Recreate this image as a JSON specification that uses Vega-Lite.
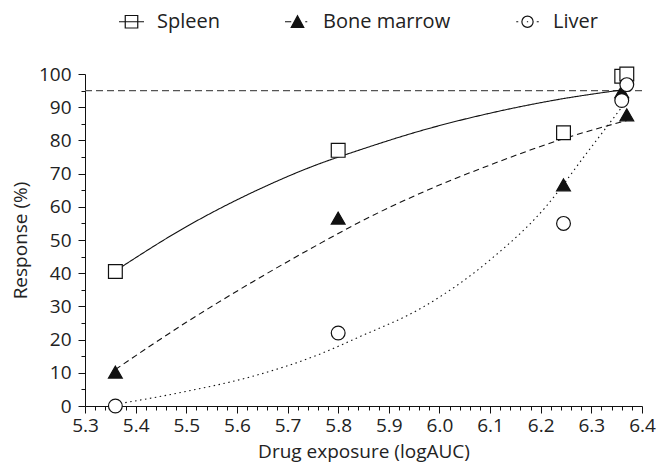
{
  "$schema": "https://vega.github.io/schema/vega-lite/v6.json",
  "width": 557,
  "height": 332,
  "autosize": "none",
  "padding": {"left": 85, "top": 74, "right": 23, "bottom": 69},
  "config": {
    "font": "Open Sans",
    "view": {"stroke": null},
    "axis": {
      "grid": false,
      "domainColor": "#111",
      "tickColor": "#111",
      "labelColor": "#222",
      "titleColor": "#222",
      "labelFontSize": 19,
      "titleFontSize": 19,
      "titleFontWeight": "normal",
      "labelFont": "Open Sans",
      "titleFont": "Open Sans"
    }
  },
  "datasets": {
    "points": [
      {"series": "Spleen", "x": 5.36, "y": 40.5},
      {"series": "Spleen", "x": 5.8, "y": 77},
      {"series": "Spleen", "x": 6.245, "y": 82.3},
      {"series": "Spleen", "x": 6.36, "y": 99.3},
      {"series": "Spleen", "x": 6.37, "y": 100},
      {"series": "Bone marrow", "x": 5.36, "y": 10.2},
      {"series": "Bone marrow", "x": 5.8, "y": 56.6},
      {"series": "Bone marrow", "x": 6.245, "y": 66.6},
      {"series": "Bone marrow", "x": 6.36, "y": 94.7},
      {"series": "Bone marrow", "x": 6.37, "y": 87.7},
      {"series": "Liver", "x": 5.36, "y": 0},
      {"series": "Liver", "x": 5.8, "y": 22},
      {"series": "Liver", "x": 6.245, "y": 55},
      {"series": "Liver", "x": 6.36, "y": 92},
      {"series": "Liver", "x": 6.37, "y": 96.8}
    ],
    "curves": [
      {"series": "Spleen", "x": 5.36, "y": 40.7},
      {"series": "Spleen", "x": 5.5, "y": 54},
      {"series": "Spleen", "x": 5.63, "y": 64.3},
      {"series": "Spleen", "x": 5.76, "y": 72.8},
      {"series": "Spleen", "x": 5.84, "y": 77},
      {"series": "Spleen", "x": 5.97, "y": 83.2},
      {"series": "Spleen", "x": 6.1, "y": 88.2},
      {"series": "Spleen", "x": 6.23, "y": 92.2},
      {"series": "Spleen", "x": 6.36, "y": 95.2},
      {"series": "Bone marrow", "x": 5.36, "y": 11},
      {"series": "Bone marrow", "x": 5.5, "y": 25.2},
      {"series": "Bone marrow", "x": 5.63, "y": 37.3},
      {"series": "Bone marrow", "x": 5.76, "y": 48.6},
      {"series": "Bone marrow", "x": 5.84, "y": 55.2},
      {"series": "Bone marrow", "x": 5.97, "y": 64.6},
      {"series": "Bone marrow", "x": 6.1, "y": 72.6},
      {"series": "Bone marrow", "x": 6.245, "y": 80.5},
      {"series": "Bone marrow", "x": 6.37, "y": 86},
      {"series": "Liver", "x": 5.36, "y": 0.5},
      {"series": "Liver", "x": 5.5, "y": 4.4},
      {"series": "Liver", "x": 5.63, "y": 8.9},
      {"series": "Liver", "x": 5.76, "y": 15.4},
      {"series": "Liver", "x": 5.84, "y": 20.7},
      {"series": "Liver", "x": 5.97, "y": 30},
      {"series": "Liver", "x": 6.1, "y": 44},
      {"series": "Liver", "x": 6.21, "y": 60},
      {"series": "Liver", "x": 6.29, "y": 76},
      {"series": "Liver", "x": 6.365, "y": 91}
    ]
  },
  "layer": [
    {
      "data": {"values": [{"level": 95}]},
      "mark": {"type": "rule", "strokeDash": [7, 4], "color": "#555", "strokeWidth": 1.2},
      "encoding": {"y": {"field": "level", "type": "quantitative", "axis": null}}
    },
    {
      "data": {"name": "curves"},
      "mark": {"type": "line", "interpolate": "monotone", "color": "#111", "strokeWidth": 1.1},
      "encoding": {
        "x": {
          "field": "x", "type": "quantitative",
          "scale": {"domain": [5.3, 6.4], "nice": false, "zero": false},
          "axis": {
            "orient": "bottom",
            "title": "Drug exposure (logAUC)",
            "values": [5.3, 5.4, 5.5, 5.6, 5.7, 5.8, 5.9, 6.0, 6.1, 6.2, 6.3, 6.4],
            "format": ".1f",
            "tickSize": 7,
            "labelPadding": 3,
            "titlePadding": 7,
            "labelFlush": false,
            "labelOverlap": false
          }
        },
        "y": {
          "field": "y", "type": "quantitative",
          "scale": {"domain": [0, 100], "nice": false},
          "axis": {
            "orient": "left",
            "title": "Response (%)",
            "values": [0, 10, 20, 30, 40, 50, 60, 70, 80, 90, 100],
            "tickSize": 7,
            "labelPadding": 7,
            "titlePadding": 8,
            "labelFlush": false,
            "labelOverlap": false
          }
        },
        "detail": {"field": "series"},
        "strokeDash": {
          "field": "series", "type": "nominal",
          "scale": {"domain": ["Spleen", "Bone marrow", "Liver"], "range": [[1, 0], [6, 4], [1.5, 3.5]]},
          "legend": null
        }
      }
    },
    {
      "data": {"name": "points"},
      "mark": {"type": "point", "filled": true, "stroke": "#111", "strokeWidth": 1.2, "size": 190, "opacity": 1},
      "encoding": {
        "x": {
          "field": "x", "type": "quantitative",
          "axis": {
            "orient": "bottom",
            "title": null,
            "labels": false,
            "domain": false,
            "tickSize": 4,
            "values": [5.32, 5.34, 5.36, 5.38, 5.42, 5.44, 5.46, 5.48, 5.52, 5.54, 5.56, 5.58, 5.62, 5.64, 5.66, 5.68, 5.72, 5.74, 5.76, 5.78, 5.82, 5.84, 5.86, 5.88, 5.92, 5.94, 5.96, 5.98, 6.02, 6.04, 6.06, 6.08, 6.12, 6.14, 6.16, 6.18, 6.22, 6.24, 6.26, 6.28, 6.32, 6.34, 6.36, 6.38]
          }
        },
        "y": {
          "field": "y", "type": "quantitative",
          "axis": {
            "orient": "left",
            "title": null,
            "labels": false,
            "domain": false,
            "tickSize": 4,
            "values": [5, 15, 25, 35, 45, 55, 65, 75, 85, 95]
          }
        },
        "shape": {
          "field": "series", "type": "nominal",
          "scale": {"domain": ["Spleen", "Bone marrow", "Liver"], "range": ["square", "triangle-up", "circle"]},
          "legend": null
        },
        "fill": {
          "field": "series", "type": "nominal",
          "scale": {"domain": ["Spleen", "Bone marrow", "Liver"], "range": ["white", "#111", "white"]},
          "legend": null
        }
      }
    },
    {
      "data": {"name": "points"},
      "mark": {"type": "point", "filled": true, "stroke": "#111", "strokeWidth": 1.2, "size": 625, "opacity": 0},
      "encoding": {
        "x": {"field": "x", "type": "quantitative", "axis": null},
        "y": {"field": "y", "type": "quantitative", "axis": null},
        "shape": {
          "field": "series", "type": "nominal",
          "scale": {
            "domain": ["Spleen", "Bone marrow", "Liver"],
            "range": [
              "M-1,0H1M-0.5,-0.5H0.5V0.5H-0.5Z",
              "M-1,0H-0.5M0.62,0H0.78M0,-0.48L0.5,0.45H-0.5Z",
              "M-0.9,0H-0.74M0.74,0H0.9M-0.05,0H0.05M-0.45,0A0.45,0.45 0 1 1 0.45,0A0.45,0.45 0 1 1 -0.45,0Z"
            ]
          },
          "legend": {
            "title": null,
            "orient": "none",
            "legendX": 33,
            "legendY": -66,
            "direction": "horizontal",
            "labelFontSize": 20,
            "labelFont": "Open Sans",
            "labelColor": "#222",
            "symbolOpacity": 1,
            "symbolSize": 625,
            "symbolStrokeWidth": 1.2,
            "columnPadding": 62,
            "labelOffset": 12
          }
        },
        "fill": {
          "field": "series", "type": "nominal",
          "scale": {"domain": ["Spleen", "Bone marrow", "Liver"], "range": ["white", "#111", "white"]},
          "legend": {
            "title": null,
            "orient": "none",
            "legendX": 33,
            "legendY": -66,
            "direction": "horizontal",
            "labelFontSize": 20,
            "labelFont": "Open Sans",
            "labelColor": "#222",
            "symbolOpacity": 1,
            "symbolSize": 625,
            "symbolStrokeWidth": 1.2,
            "columnPadding": 62,
            "labelOffset": 12
          }
        }
      }
    }
  ],
  "resolve": {
    "axis": {"x": "independent", "y": "independent"},
    "scale": {"shape": "independent", "fill": "independent"}
  }
}
